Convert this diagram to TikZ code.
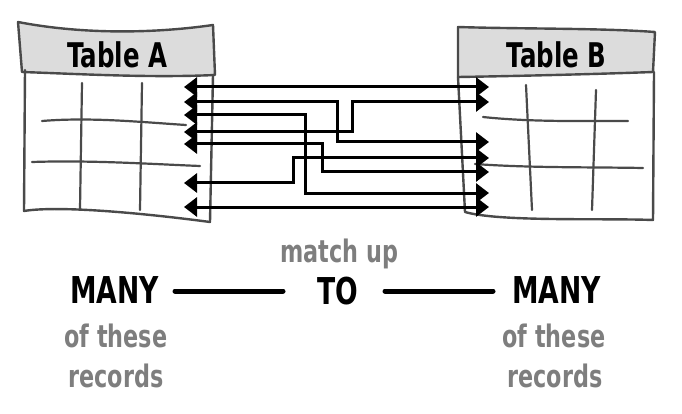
\documentclass[tikz,border=0pt]{standalone}
\usepackage{fontspec}
\usetikzlibrary{arrows.meta}
\newfontfamily\hand[FakeStretch=0.8]{DejaVu Sans Condensed}
\definecolor{tline}{HTML}{4A4A4A}
\definecolor{thead}{HTML}{DCDCDC}
\definecolor{gtext}{HTML}{7E7E7E}
\begin{document}
\begin{tikzpicture}[x=1pt,y=-1pt,
  tbl/.style={draw=tline, line width=2.4pt, line join=round, line cap=round},
  gridline/.style={draw=tline, line width=2.2pt, line cap=round},
  link/.style={line width=3pt, {Triangle[length=13pt,width=19pt]}-{Triangle[length=13pt,width=19pt]}},
  ttl/.style={font=\hand\bfseries\fontsize{34}{34}\selectfont, anchor=base, inner sep=0pt},
  big/.style={font=\hand\bfseries\fontsize{37}{37}\selectfont, anchor=base, inner sep=0pt},
  sub/.style={font=\hand\bfseries\fontsize{31}{31}\selectfont, text=gtext, anchor=base, inner sep=0pt},
  bar/.style={line width=5pt, line cap=round}]
\useasboundingbox (0,0) rectangle (682,414);

% ---- Table A ----
\path[tbl, fill=thead] (18,22) .. controls (80,34) and (150,34) .. (213,25) -- (215,75)
  .. controls (150,78) and (80,74) .. (22,72) -- cycle;
\path[tbl] (25,70) -- (24,211) .. controls (60,205) and (150,214) .. (210,222) -- (213,75);
\path[gridline] (82,83) -- (80,209);
\path[gridline] (142,83) -- (140,210);
\path[gridline] (42,121) .. controls (90,117) and (140,122) .. (186,125);
\path[gridline] (32,162) .. controls (90,160) and (150,164) .. (200,166);
\node[ttl] (ta) at (117.5,68) {Table A};

% ---- Table B ----
\path[tbl, fill=thead] (458,27) .. controls (520,29) and (600,28) .. (655,32) -- (653,72)
  .. controls (600,74) and (520,76) .. (458,77) -- cycle;
\path[tbl] (458,77) -- (465,212) .. controls (500,222) and (600,218) .. (653,220) -- (654,72);
\path[gridline] (526,85) -- (532,210);
\path[gridline] (596,90) -- (592,210);
\path[gridline] (483,117) .. controls (530,122) and (580,121) .. (628,121);
\path[gridline] (475,164) .. controls (530,168) and (590,167) .. (643,168);
\node[ttl] (tb) at (556.5,68) {Table B};

% ---- connector ends ----
\coordinate (L1) at (184,87);  \coordinate (R1) at (489,87);
\coordinate (L2) at (184,102); \coordinate (R2) at (489,102);
\coordinate (L3) at (184,115); \coordinate (R3) at (489,142);
\coordinate (L4) at (184,132); \coordinate (R4) at (489,158);
\coordinate (L5) at (184,144); \coordinate (R5) at (489,172);
\coordinate (L6) at (184,183); \coordinate (R6) at (489,193);
\coordinate (L7) at (184,207); \coordinate (R7) at (489,207);
\coordinate (M2) at (337,142);
\coordinate (M3) at (352,102);
\coordinate (M4) at (305,193);
\coordinate (M5) at (322,172);
\coordinate (M6) at (293,158);

\draw[link] (L1) -- (R1);
\draw[link] (L2) -| (M2) -- (R3);
\draw[link] (L4) -| (M3) -- (R2);
\draw[link] (L3) -| (M4) -- (R6);
\draw[link] (L5) -| (M5) -- (R5);
\draw[link] (L6) -| (M6) -- (R4);
\draw[link] (L7) -- (R7);

% ---- bottom text ----
\node[big] (manyl) at (114.5,303) {MANY};
\node[big] (to) at (337.5,304) {TO};
\node[big] (manyr) at (556.5,303) {MANY};
\node[sub] (match) at (339.5,262) {match up};
\node[sub] (ofl) at (116,347) {of these};
\node[sub] (recl) at (116,387) {records};
\node[sub] (ofr) at (554,347) {of these};
\node[sub] (recr) at (555,387) {records};

\coordinate (b1) at (175,291); \coordinate (b2) at (283,291);
\coordinate (b3) at (385,291); \coordinate (b4) at (493,291);
\draw[bar] (b1) -- (b2);
\draw[bar] (b3) -- (b4);
\end{tikzpicture}
\end{document}
